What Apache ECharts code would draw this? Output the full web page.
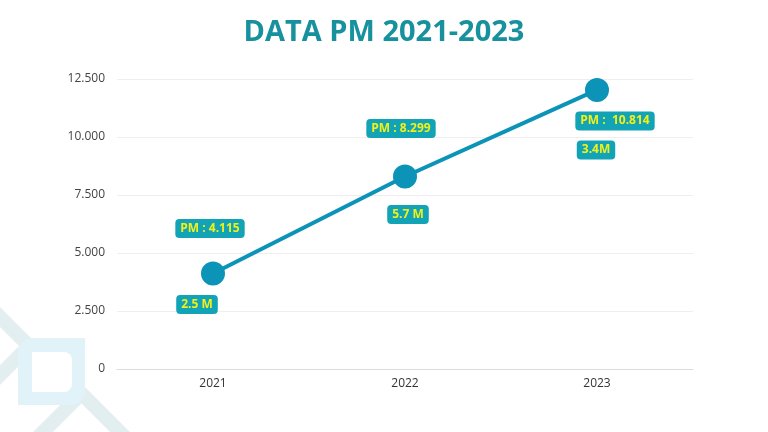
<!DOCTYPE html>
<html><head><meta charset="utf-8">
<script src="https://cdn.jsdelivr.net/npm/echarts@6/dist/echarts.min.js"></script>
<style>html,body{margin:0;padding:0;background:#fff}#c{width:768px;height:432px}</style>
</head><body><div id="c"></div>
<script>
var categories = ['2021', '2022', '2023'];
var values = [4115, 8299, 12030];
var topLabels = ['PM : 4.115', 'PM : 8.299', 'PM :  10.814'];
var bottomLabels = ['2.5 M', '5.7 M', '3.4M'];
var yTicks = [0, 2500, 5000, 7500, 10000, 12500];

var topOffsets = [[-3, -45], [-4, -48], [18, 31]];
var bottomOffsets = [[-16, 31], [3, 38], [-1, 60]];

function fmt(v) {
  return String(v).replace(/\B(?=(\d{3})+(?!\d))/g, '.');
}
var boxStyle = {
  backgroundColor: '#12a4b6', color: '#f2f01a', fontWeight: 'bold',
  fontFamily: 'Open Sans', fontSize: 12, padding: [4, 5, 3, 5], borderRadius: 4
};
function lab(text, off) {
  return Object.assign({ show: true, position: 'inside', offset: off, formatter: text }, boxStyle);
}
var chart = echarts.init(document.getElementById('c'));
chart.setOption({
  animation: false,
  title: {
    text: 'DATA PM 2021-2023', left: 'center', top: 13,
    textStyle: { fontFamily: 'Open Sans', fontWeight: 'bold', fontSize: 29, color: '#16919d' }
  },
  graphic: [
    { type: 'polyline', z: -10, silent: true, shape: { points: [[-12, 305], [29, 346], [-12, 387]] },
      style: { stroke: '#e3eef1', lineWidth: 14, fill: null } },
    { type: 'polyline', z: -10, silent: true, shape: { points: [[31, 444], [81.5, 393.5], [132, 444]] },
      style: { stroke: '#e3eef1', lineWidth: 14, fill: null } },
    { type: 'rect', z: -9, silent: true,
      shape: { x: 18, y: 338, width: 67, height: 67, r: [14, 0, 14, 0] },
      style: { fill: '#e1f3f8' } },
    { type: 'rect', z: -8, silent: true,
      shape: { x: 32, y: 352, width: 40, height: 40, r: [0, 8, 8, 0] },
      style: { fill: '#ffffff' } }
  ],
  grid: { left: 117, right: 75, top: 79, bottom: 63 },
  xAxis: {
    type: 'category', data: categories,
    axisLine: { lineStyle: { color: '#dddddd' } },
    axisTick: { show: false },
    axisLabel: { color: '#333', fontSize: 12, fontFamily: 'Open Sans', margin: 9 }
  },
  yAxis: {
    type: 'value', min: 0, max: 12500, interval: 2500,
    axisLine: { show: false }, axisTick: { show: false },
    splitLine: { lineStyle: { color: '#eeeeee' } },
    axisLabel: { color: '#444', fontSize: 12, fontFamily: 'Open Sans', margin: 12,
      formatter: function (v) { return yTicks.indexOf(v) >= 0 ? fmt(v) : ''; } }
  },
  series: [
    { type: 'line', data: values.map(function (v, i) { return { value: v, label: lab(topLabels[i], topOffsets[i]) }; }),
      symbol: 'circle', symbolSize: 24,
      lineStyle: { color: '#0b93b8', width: 4 }, itemStyle: { color: '#0b93b8' }, z: 3 },
    { type: 'line', data: values.map(function (v, i) { return { value: v, label: lab(bottomLabels[i], bottomOffsets[i]) }; }),
      symbol: 'circle', symbolSize: 1, showAllSymbol: true, itemStyle: { color: 'rgba(0,0,0,0)' },
      lineStyle: { opacity: 0 }, z: 4 }
  ]
});
</script></body></html>
